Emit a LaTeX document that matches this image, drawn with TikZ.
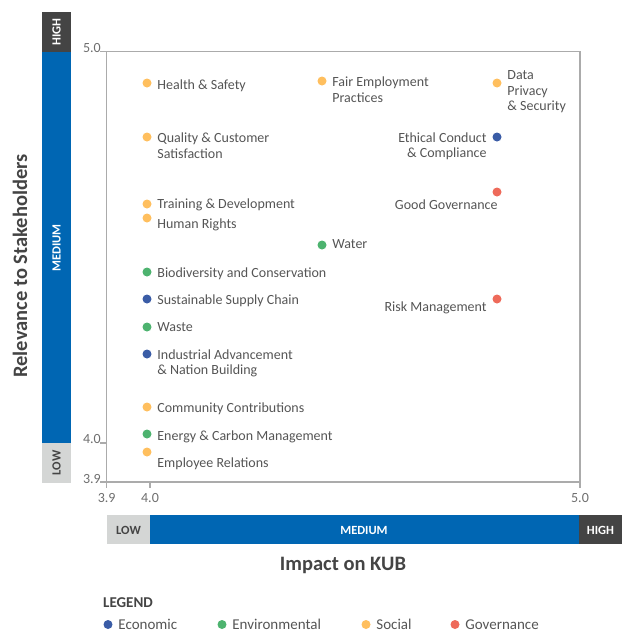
\documentclass[tikz,border=0pt]{standalone}
\usepackage{fontspec}
\setmainfont{Carlito}
\usetikzlibrary{positioning}
\definecolor{econ}{HTML}{3A5CA6}
\definecolor{envi}{HTML}{4DB36F}
\definecolor{soci}{HTML}{FFBF5E}
\definecolor{gove}{HTML}{EE6A5A}
\definecolor{barblue}{HTML}{0066B3}
\definecolor{bardark}{HTML}{444444}
\definecolor{barlight}{HTML}{D4D6D5}
\definecolor{txtgray}{HTML}{555555}
\definecolor{axgray}{HTML}{ABABAB}

\begin{document}
\begin{tikzpicture}[x=1pt,y=-1pt,
  dot/.style={fill=#1,circle,inner sep=0pt,minimum size=9pt},
  every label/.style={text=txtgray,inner sep=0pt,align=left,font=\fontsize{14}{15.5}\selectfont},
  label distance=5.5pt,
  barlbl/.style={font=\fontsize{12.5}{13}\selectfont\bfseries,inner sep=0pt},
  ticklbl/.style={text=txtgray!85,font=\fontsize{14}{15}\selectfont,inner sep=0pt},
  title/.style={text=bardark,font=\fontsize{20.5}{22}\selectfont\bfseries,inner sep=0pt}]
\useasboundingbox (0,0) rectangle (622,632);
% The bars
\fill[bardark] (42,12) rectangle (71,52);
\fill[barblue] (42,52) rectangle (71,443);
\fill[barlight] (42,443) rectangle (71,483);
\fill[barlight] (107,515) rectangle (150,544);
\fill[barblue] (150,515) rectangle (579,544);
\fill[bardark] (579,515) rectangle (622,544);
\node[barlbl,white,rotate=90] (vhigh) at (56.5,32) {HIGH};
\node[barlbl,white,rotate=90] (vmed) at (56.5,248) {MEDIUM};
\node[barlbl,bardark,rotate=90] (vlow) at (56.5,463) {LOW};
\node[barlbl,bardark] (hlow) at (128.5,530) {LOW};
\node[barlbl,white] (hmed) at (364,530) {MEDIUM};
\node[barlbl,white] (hhigh) at (600.5,530) {HIGH};
% The frame and ticks
\draw[axgray,line width=1.3pt] (100,51.7) -- (580,51.7) -- (580,488);
\draw[axgray,line width=1.3pt] (106.7,51.7) -- (106.7,488);
\draw[axgray,line width=1.3pt] (100,482) -- (580,482);
\draw[axgray,line width=1.3pt] (100,443) -- (106.7,443);
\draw[axgray,line width=1.3pt] (150,482) -- (150,488);
\node[ticklbl,anchor=base east] (y50) at (101,52) {5.0};
\node[ticklbl,anchor=base east] (y40) at (101,443) {4.0};
\node[ticklbl,anchor=base east] (y39) at (101,483) {3.9};
\node[ticklbl,anchor=base] (x39) at (106.7,502) {3.9};
\node[ticklbl,anchor=base] (x40) at (150,502) {4.0};
\node[ticklbl,anchor=base] (x50) at (580,502) {5.0};
% The axis titles
\node[title,rotate=90] (ytitle) at (20,266) {Relevance to Stakeholders};
\node[title] (xtitle) at (343,565) {Impact on KUB};

% Social
\node[dot=soci,label={[yshift=-3pt]right:Health \& Safety}] (hs) at (147,83) {};
\node[dot=soci,label={[yshift=-8.5pt]right:Quality \& Customer\\Satisfaction}] (qcs) at (147,137) {};
\node[dot=soci,label={[yshift=-1pt]right:Training \& Development}] (td) at (147,204) {};
\node[dot=soci,label={[yshift=-7pt]right:Human Rights}] (hr) at (147,218) {};
\node[dot=soci,label={[yshift=-8.5pt]right:Fair Employment\\Practices}] (fep) at (322,81) {};
\node[dot=soci,label={[yshift=-9pt]right:Data\\Privacy\\\& Security}] (dps) at (497,83) {};
\node[dot=soci,label={[yshift=-2pt]right:Community Contributions}] (cc) at (147,407) {};
\node[dot=soci,label={[yshift=-12pt]right:Employee Relations}] (er) at (147,452) {};
% Environmental
\node[dot=envi,label={[yshift=1pt]right:Water}] (wat) at (322,245) {};
\node[dot=envi,label={[yshift=-2pt]right:Biodiversity and Conservation}] (bio) at (147,272) {};
\node[dot=envi,label={right:Waste}] (was) at (147,327) {};
\node[dot=envi,label={[yshift=-3pt]right:Energy \& Carbon Management}] (ecm) at (147,434) {};
% Economic
\node[dot=econ,label={[yshift=-9.5pt,align=right]left:Ethical Conduct\\\& Compliance}] (ecc) at (497,137) {};
\node[dot=econ,label={[yshift=-2pt]right:Sustainable Supply Chain}] (ssc) at (147,299) {};
\node[dot=econ,label={[yshift=-9.5pt]right:Industrial Advancement\\\& Nation Building}] (ianb) at (147,354) {};
% Governance
\node[dot=gove,label={[xshift=11pt,yshift=-13pt]left:Good Governance}] (gg) at (497,192) {};
\node[dot=gove,label={[yshift=-9pt]left:Risk Management}] (rm) at (497,299) {};

% The legend
\node[anchor=base west,text=bardark,font=\fontsize{15}{16}\selectfont\bfseries,inner sep=0pt] (leg) at (103,607) {LEGEND};
\node[dot=econ,label={[font=\fontsize{15}{16}\selectfont]right:Economic}] (leco) at (108,624.5) {};
\node[dot=envi,label={[font=\fontsize{15}{16}\selectfont]right:Environmental}] (lenv) at (222,624.5) {};
\node[dot=soci,label={[font=\fontsize{15}{16}\selectfont]right:Social}] (lsoc) at (366,624.5) {};
\node[dot=gove,label={[font=\fontsize{15}{16}\selectfont]right:Governance}] (lgov) at (455,624.5) {};
\end{tikzpicture}
\end{document}
